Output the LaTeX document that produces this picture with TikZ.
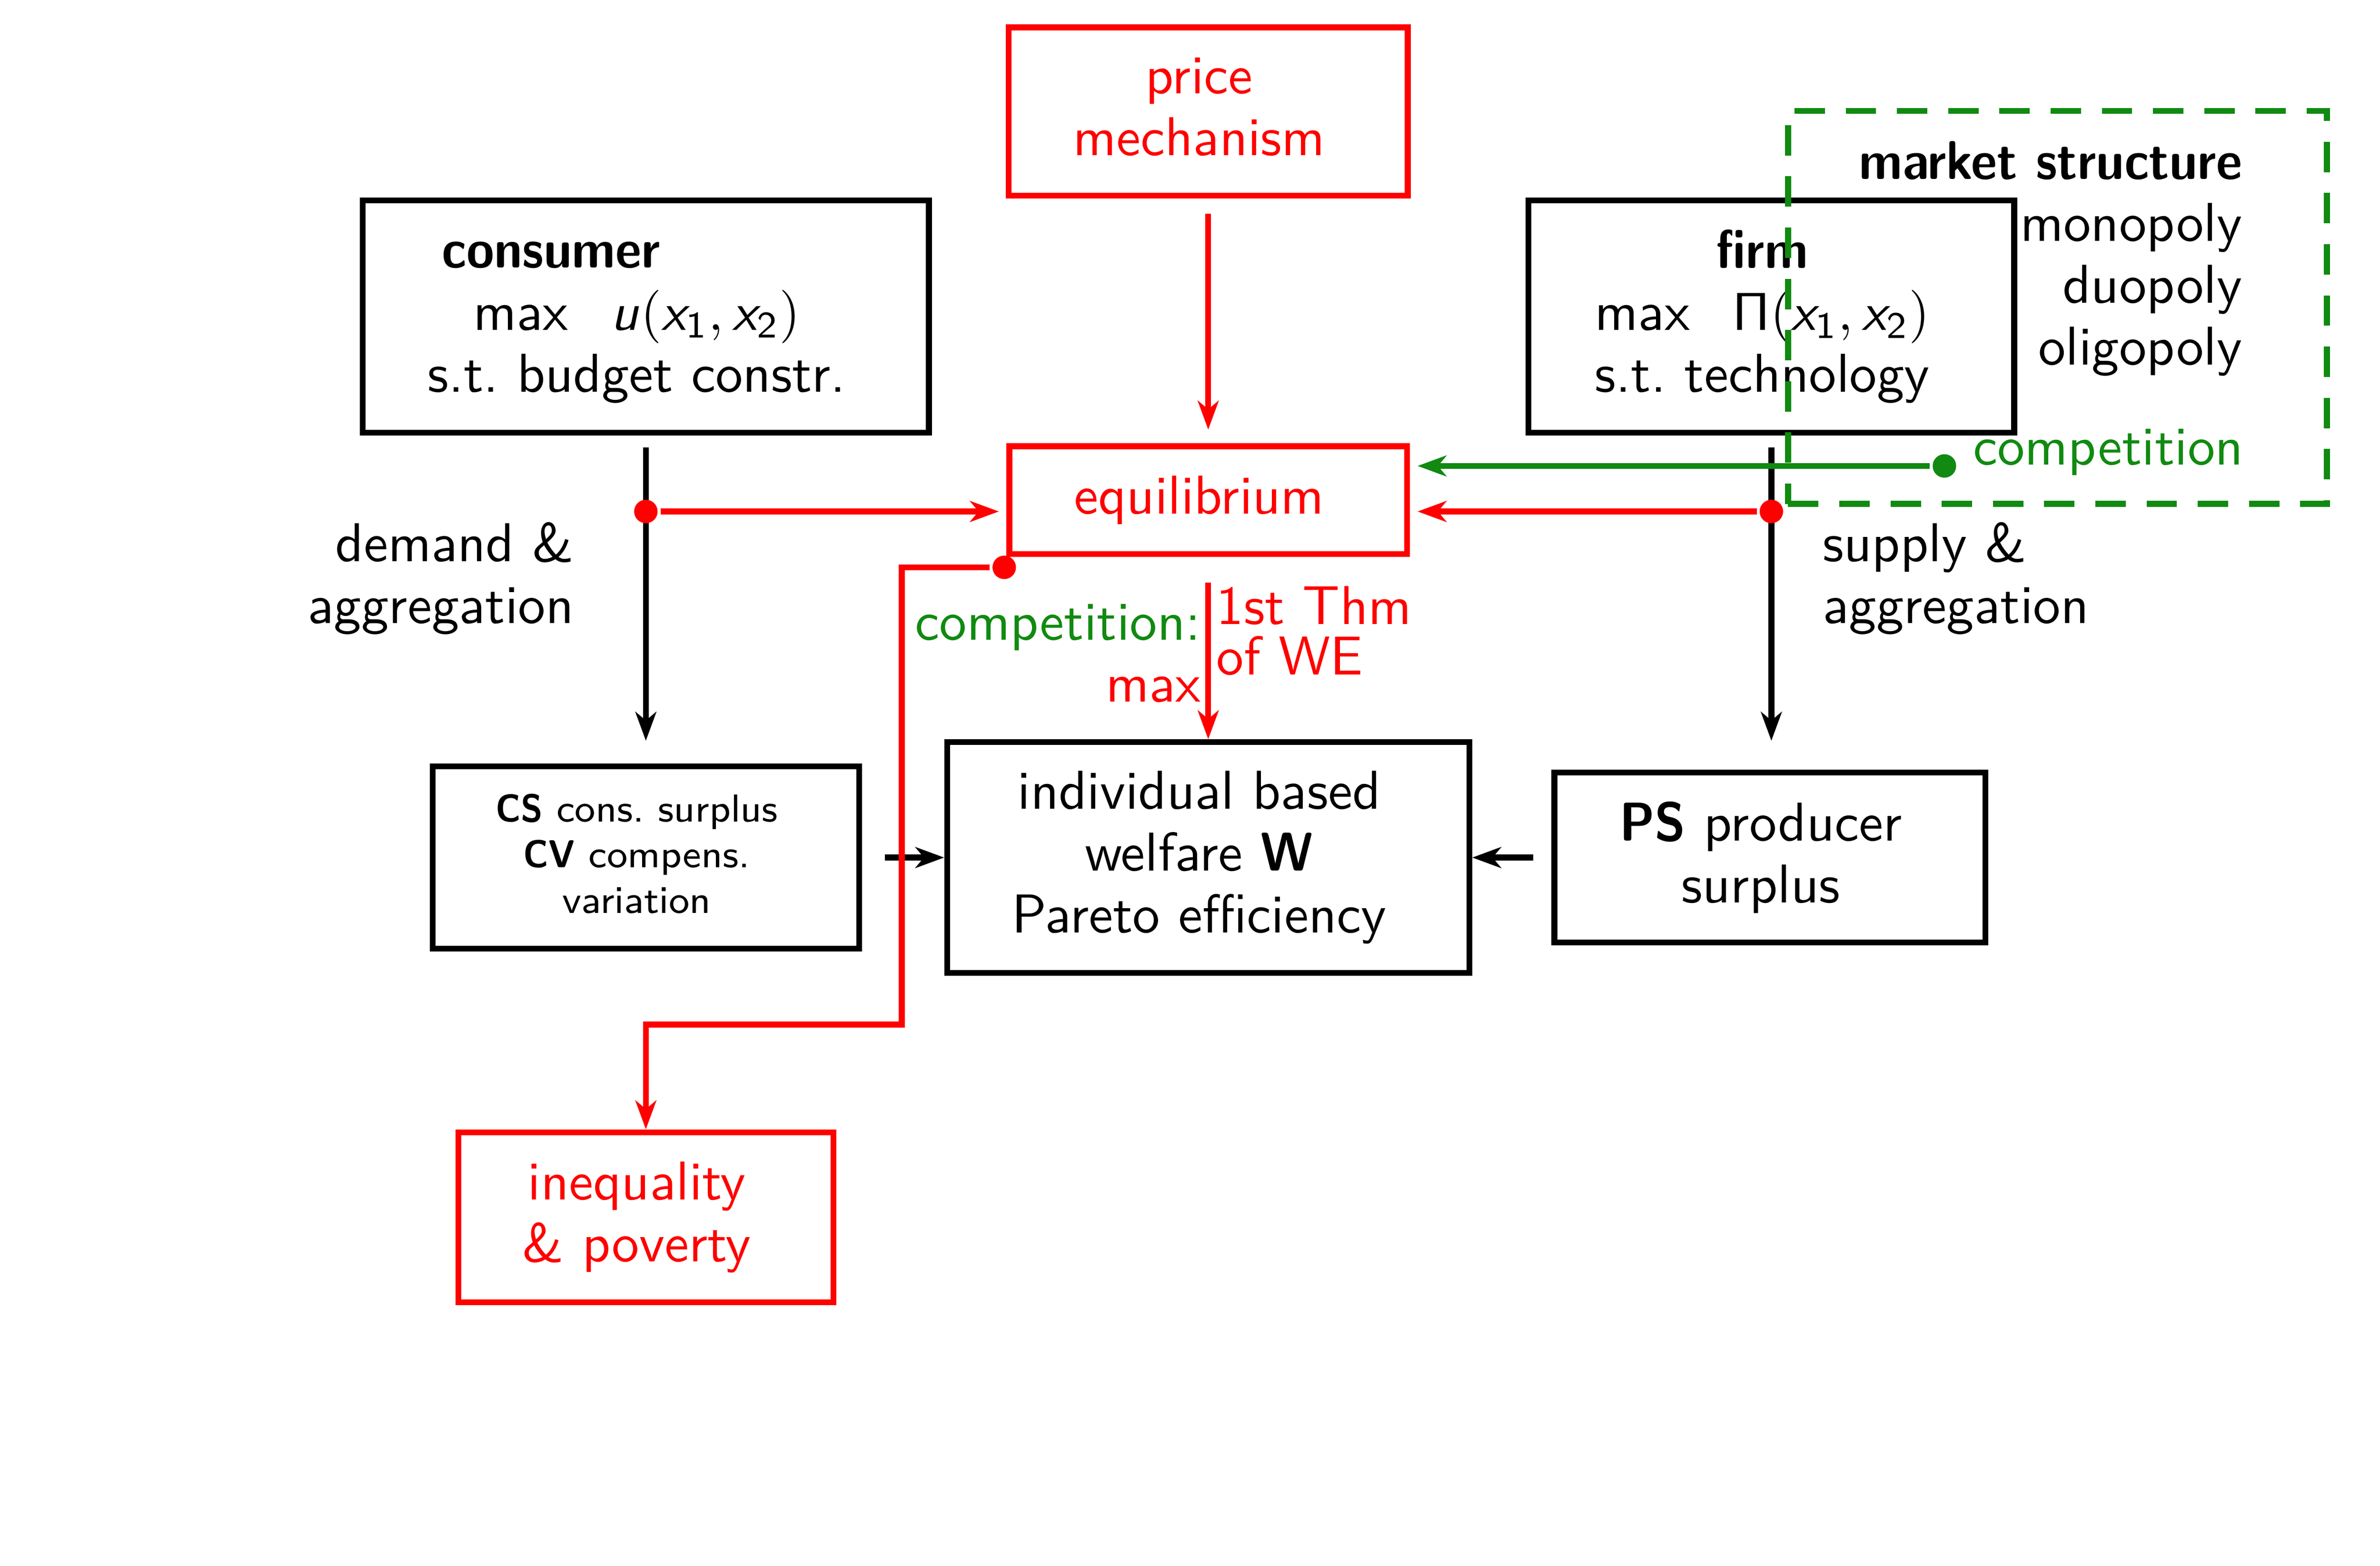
\documentclass[tikz,border=0pt]{standalone}
\usepackage{graphicx}
\usetikzlibrary{arrows.meta}
\definecolor{grn}{RGB}{16,138,16}
\DeclareMathAlphabet{\mathss}{OT1}{cmss}{m}{sl}
\newcommand{\sx}{\mathss{x}}
\newcommand{\tb}[1]{\scalebox{0.92}[1]{\bfseries #1}}
\newcommand{\colL}{4.255}
\newcommand{\colM}{7.96}
\newcommand{\colR}{11.67}
\newcommand{\rowB}{4.666}

\begin{document}
\begin{tikzpicture}[font=\sffamily\fontsize{10.25}{11.6}\selectfont, line width=1.1pt,
        >={Stealth[length=5.4pt,width=3.9pt,inset=1.6pt]},
        blackbox/.style={draw, rectangle, inner sep=0pt},
        redbox/.style={blackbox, red},
        boxtext/.style={align=center, inner sep=0pt, xshift=-0.06cm},
        mktbox/.style={draw=grn, dash pattern=on 5.7pt off 3.9pt},
        redarr/.style={->, red},
        grnarr/.style={->, grn},
        rdot/.style={circle, fill=red, inner sep=0pt, minimum size=4.4pt},
        gdot/.style={rdot, fill=grn},
        lbl/.style={inner sep=0pt}]

        \useasboundingbox (0,0) rectangle (15.68,10.316);

        % Top row: price, consumer, firm
        \node[redbox, minimum width=2.63cm, minimum height=1.11cm] (price) at (\colM,9.581) {};
        \node[boxtext, text=red, yshift=0.03cm] (price-t) at (price) {price\\mechanism};
        \node[blackbox, minimum width=3.73cm, minimum height=1.53cm] (cons) at (\colL,8.231) {};
        \node[boxtext, yshift=-0.04cm] (cons-t) at (cons)
            {\tb{consumer}\hspace*{1.13cm}\\max\hspace{8pt}$\mathss{u}(\sx_{\mathsf{1}},\sx_{\mathsf{2}})$\\s.t.\ budget constr.};
        \node[blackbox, minimum width=3.20cm, minimum height=1.53cm] (firm) at (\colR,8.231) {};
        \node[boxtext] (firm-t) at (firm)
            {\tb{firm}\\max\hspace{8pt}$\mathsf{\Pi}(\sx_{\mathsf{1}},\sx_{\mathsf{2}})$\\s.t.\ technology};

        % Market structure (dashed)
        \node[mktbox, minimum width=3.55cm, minimum height=2.59cm] (mkt) at (13.555,8.291) {};
        \node[lbl, align=right, anchor=east] (mkttxt) at (14.79,8.61)
            {\tb{market structure}\\monopoly\\duopoly\\oligopoly};
        \node[lbl, anchor=west, text=grn] (comp) at (12.98,7.336) {competition};

        % Equilibrium
        \node[redbox, minimum width=2.62cm, minimum height=0.71cm] (eq) at (\colM,7.021) {};
        \node[boxtext, text=red] (eq-t) at (eq) {equilibrium};

        % Bottom row
        \node[blackbox, minimum width=2.81cm, minimum height=1.20cm] (cs) at (\colL,\rowB) {};
        \node[boxtext, yshift=0.025cm, font=\sffamily\fontsize{7.3}{8.6}\selectfont] (cs-t) at (cs)
            {\tb{CS} cons.\ surplus\\\tb{CV} compens.\\variation};
        \node[blackbox, minimum width=3.44cm, minimum height=1.52cm] (wel) at (\colM,\rowB) {};
        \node[boxtext] (wel-t) at (wel) {individual based\\welfare \tb{W}\\Pareto efficiency};
        \node[blackbox, minimum width=2.84cm, minimum height=1.12cm] (ps) at (11.66,\rowB) {};
        \node[boxtext] (ps-t) at (ps) {\tb{PS} producer\\surplus};
        \node[redbox, minimum width=2.47cm, minimum height=1.12cm] (ineq) at (\colL,2.296) {};
        \node[boxtext, text=red] (ineq-t) at (ineq) {inequality\\\& poverty};

        % Labels
        \node[lbl, align=right, anchor=east] (dem) at (3.80,6.506) {demand \&\\aggregation};
        \node[lbl, align=left, anchor=west] (sup) at (11.99,6.506) {supply \&\\aggregation};
        \node[lbl, align=right, anchor=east] (cmax) at (7.93,6.011) {\textcolor{grn}{competition:}\\\textcolor{red}{max}};
        \node[lbl, align=left, anchor=west, text=red, font=\sffamily\fontsize{10.25}{9.4}\selectfont] (thm) at (7.995,6.16) {1st Thm\\of WE};

        % Black arrows
        \draw[->, shorten <=0.08cm, shorten >=0.15cm] (cons.south) -- (cs.north);
        \draw[->, shorten <=0.08cm, shorten >=0.19cm] (firm.south) -- (firm.south |- ps.north);
        \draw[->, shorten <=0.15cm] (cs.east) -- (wel.west);
        \draw[->, shorten <=0.12cm] (ps.west) -- (wel.east);

        % Dots
        \node[rdot] (dd) at (\colL,6.946) {};
        \node[rdot] (sd) at (\colR,6.946) {};
        \node[gdot] (cd) at (12.81,7.246) {};
        \node[rdot] (ed) at (6.616,6.578) {};

        % Red and green arrows
        \draw[redarr, shorten <=0.1cm, shorten >=0.09cm] (price.south) -- (eq.north);
        \draw[redarr, shorten >=0.05cm] (dd) -- (eq.west |- dd);
        \draw[redarr, shorten >=0.05cm] (sd) -- (eq.east |- sd);
        \draw[grnarr, shorten >=0.05cm] (cd) -- (eq.east |- cd);
        \draw[redarr, shorten <=0.17cm] (eq.south) -- (wel.north);
        \draw[redarr] (ed) -| (5.941,3.566) -| (ineq.north);
    \end{tikzpicture}
\end{document}
